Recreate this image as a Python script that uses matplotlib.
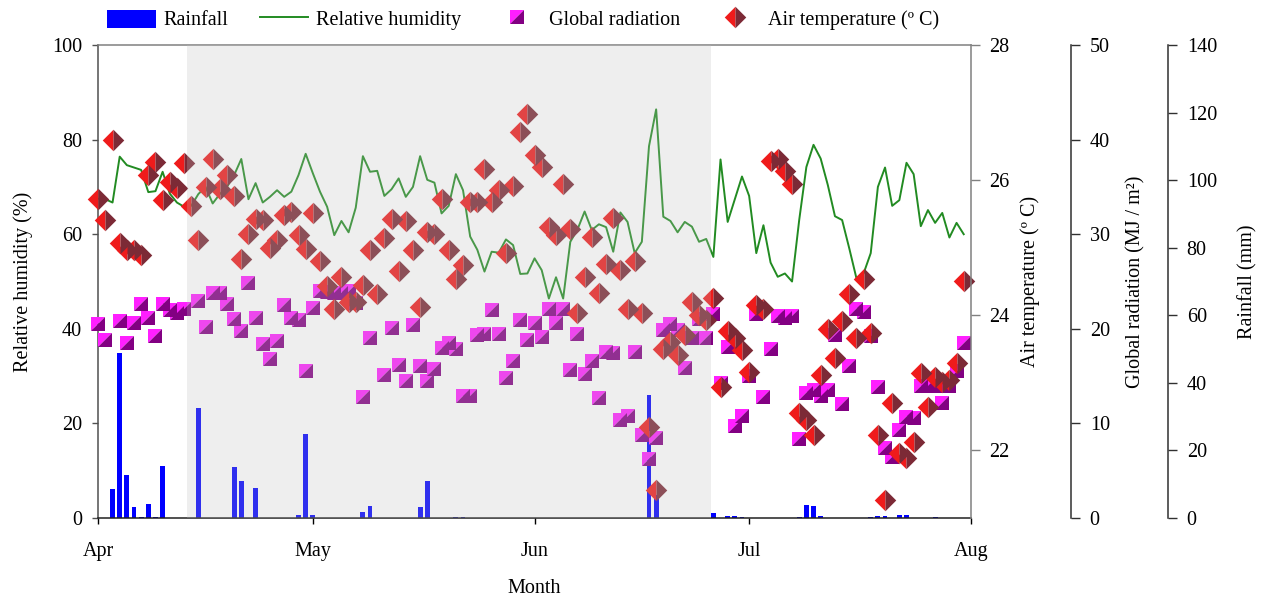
import numpy as np
import matplotlib.pyplot as plt
from matplotlib.lines import Line2D
from matplotlib.patches import Patch
from matplotlib.legend_handler import HandlerTuple

plt.rcParams['font.family'] = ['Liberation Serif', 'DejaVu Serif']
plt.rcParams['font.size'] = 14.5

# ================= DATA (day 0 = 1 April) =================
days = np.arange(122)

temperature = [
    25.72, 25.41, 26.60, 25.07, 24.97, 24.97, 24.89, 26.08, 26.27, 25.71,
    25.98, 25.88, 26.26, 25.62, 25.11, 25.90, 26.31, 25.87, 26.08, 25.76,
    24.84, 25.20, 25.42, 25.41, 24.99, 25.11, 25.48, 25.53, 25.19, 24.98,
    25.52, 24.81, 24.43, 24.09, 24.56, 24.20, 24.19, 24.45, 24.97, 24.32,
    25.15, 25.43, 24.65, 25.39, 24.96, 24.13, 25.24, 25.20, 25.72, 24.97,
    24.53, 24.74, 25.68, 25.68, 26.16, 25.68, 25.85, 24.92, 25.92, 26.72,
    26.98, 26.37, 26.20, 25.31, 25.19, 25.95, 25.27, 24.03, 24.57, 25.16,
    24.33, 24.76, 25.44, 24.67, 24.10, 24.81, 24.04, 22.34, 21.41, 23.50,
    23.61, 23.41, 23.71, 24.20, 24.00, 23.93, 24.25, 22.94, 23.77, 23.67,
    23.48, 23.16, 24.15, 24.09, 26.29, 26.32, 26.14, 25.95, 22.55, 22.45,
    22.23, 23.12, 23.79, 23.37, 23.92, 24.31, 23.66, 24.53, 23.74, 22.23,
    21.26, 22.70, 21.96, 21.89, 22.13, 23.14, 22.65, 23.09, 23.02, 23.04,
    23.29, 24.51,
]

radiation = [
    20.47, 18.80, np.nan, 20.82, 18.53, 20.57, 22.59, 21.18, 19.23, 22.66,
    21.98, 21.71, 22.13, np.nan, 22.94, 20.18, 23.83, 23.83, 22.59, 21.07,
    19.76, 24.89, 21.18, 18.35, 16.86, 18.70, 22.48, 21.18, 20.92, 15.51,
    22.24, 24.00, 23.89, 23.80, 23.83, 24.00, 22.77, 12.80, 19.06, np.nan,
    15.09, 20.12, 16.22, 14.45, 20.39, 16.12, 14.45, 15.77, 18.00, 18.45,
    17.82, 12.94, 12.94, 19.30, 19.48, 21.98, 19.41, 14.81, 16.58, 20.89,
    18.77, 20.65, 19.12, 22.13, 20.57, 22.13, 15.69, 19.41, 15.24, 16.58,
    12.69, 17.57, 17.47, 10.32, 10.74, 17.53, 8.80, 6.25, 8.45, 19.86,
    20.50, 19.86, 15.87, 19.06, 21.07, 19.06, 21.53, 14.28, 18.10, 9.76,
    10.82, 14.98, 21.60, 12.80, 17.82, 21.40, 21.18, 21.35, 8.40, 13.20,
    13.57, 12.94, 13.57, 19.30, 12.09, 16.12, 22.13, 21.77, 19.23, 13.82,
    7.39, 6.44, 9.26, 10.68, 10.57, 13.92, 13.92, 14.00, 12.16, 13.92,
    15.51, 18.53,
]

humidity = [
    67.5, 67.4, 66.7, 76.4, 74.6, 74.1, 73.6, 68.9, 69.1, 73.2,
    68.6, 66.7, 65.8, 66.0, 68.5, 70.0, 66.5, 68.5, 70.0, 72.5,
    75.9, 67.4, 70.8, 66.7, 67.9, 69.3, 67.9, 69.0, 72.5, 77.0,
    72.9, 69.0, 65.8, 59.8, 62.8, 60.4, 65.6, 76.5, 73.2, 73.4,
    68.1, 69.5, 71.8, 67.9, 70.0, 76.5, 71.5, 70.9, 64.4, 66.0,
    72.7, 69.3, 59.5, 56.7, 52.1, 56.3, 56.1, 58.9, 57.7, 51.6,
    51.7, 54.9, 52.4, 46.4, 50.9, 46.4, 58.4, 61.0, 64.8, 60.9,
    62.1, 61.5, 56.3, 64.6, 62.6, 56.0, 58.4, 78.6, 86.4, 63.7,
    62.8, 60.4, 62.6, 61.6, 58.4, 59.0, 55.2, 75.8, 62.6, 67.4,
    72.2, 68.1, 56.0, 61.9, 54.0, 51.0, 51.7, 50.0, 63.0, 74.2,
    78.9, 76.0, 70.4, 63.8, 63.0, 57.0, 50.7, 51.7, 56.0, 70.0,
    74.1, 66.0, 67.2, 75.1, 72.7, 61.7, 65.1, 62.4, 64.5, 59.3,
    62.4, 60.0,
]

rain_day = [2, 3, 4, 5, 6, 7, 8, 9, 14, 19, 20, 22, 28, 29, 30, 37, 38, 45, 46,
            50, 51, 77, 78, 86, 88, 89, 90, 98, 99, 100, 101, 108, 109, 110,
            112, 113, 117]
rain_mm = [8.6, 48.7, 12.8, 3.4, 0.4, 4.2, 0.4, 15.5, 32.5, 15.2, 11.1, 8.8,
           0.8, 24.9, 0.8, 1.9, 3.7, 3.2, 11.1, 0.4, 0.4, 36.5, 6.8, 1.5, 0.5,
           0.5, 0.4, 0.3, 3.9, 3.6, 0.7, 0.3, 0.6, 0.6, 1.0, 0.9, 0.3]

month_ticks = [0, 30, 61, 91, 122]
month_labels = ['Apr', 'May', 'Jun', 'Jul', 'Aug']
shade_span = (12.4, 85.6)

# ================= MARKER HALVES =================
sq_upper = [(-1, -1), (-1, 1), (1, 1)]
sq_lower = [(-1, -1), (1, -1), (1, 1)]
dia_left = [(0, 1), (-1, 0), (0, -1)]
dia_right = [(0, 1), (1, 0), (0, -1)]

SQ_A, SQ_B = '#ff1fff', '#820082'
DI_A, DI_B = '#ef1b1b', '#7c2a36'
GREEN = '#228b22'
SQ_MS, DI_MS = 10.6, 15.5

# ================= FIGURE =================
fig = plt.figure(figsize=(12.63, 5.97), dpi=100, facecolor='white')
hum = fig.add_axes([0.0775, 0.1323, 0.6912, 0.7923])
rain = hum.twinx()
rad = hum.twinx()
temp = hum.twinx()

rain.set_zorder(1)
hum.set_zorder(2)
rad.set_zorder(3)
temp.set_zorder(4)
hum.patch.set_visible(False)

rain.bar(rain_day, rain_mm, width=0.68, color='#0000ff', linewidth=0)
hum.plot(days, humidity, color=GREEN, lw=1.4)

rad.plot(days, radiation, ls='none', marker=sq_upper, ms=SQ_MS, mfc=SQ_A, mew=0, clip_on=False)
rad.plot(days, radiation, ls='none', marker=sq_lower, ms=SQ_MS, mfc=SQ_B, mew=0, clip_on=False)
temp.plot(days, temperature, ls='none', marker=dia_left, ms=DI_MS, mfc=DI_A, mew=0, clip_on=False)
temp.plot(days, temperature, ls='none', marker=dia_right, ms=DI_MS, mfc=DI_B, mew=0, clip_on=False)

# grey period drawn on top, washing out everything inside it
temp.axvspan(*shade_span, color='#bfbfbf', alpha=0.25, lw=0, zorder=10)

# ================= AXES =================
hum.set_xlim(-0.05, 122.0)
hum.set_ylim(0, 100)
temp.set_ylim(21, 28)
rad.set_ylim(0, 50)
rain.set_ylim(0, 140)

hum.set_xticks(month_ticks, month_labels)
hum.set_yticks([0, 20, 40, 60, 80, 100])
temp.set_yticks([22, 24, 26, 28])
rad.set_yticks([0, 10, 20, 30, 40, 50])
rain.set_yticks([0, 20, 40, 60, 80, 100, 120, 140])

hum.spines['right'].set_visible(False)
hum.spines['top'].set_color('#808080')
hum.spines['left'].set_color('#505050')
hum.spines['bottom'].set_color('#202020')
for s in hum.spines.values():
    s.set_linewidth(1.1)

for ax, pos, col in [(temp, 1.0, '#808080'), (rad, 1.1147, '#303030'), (rain, 1.2258, '#303030')]:
    for side in ['left', 'top', 'bottom']:
        ax.spines[side].set_visible(False)
    ax.spines['right'].set_position(('axes', pos))
    ax.spines['right'].set_color(col)
    ax.spines['right'].set_linewidth(1.1)
    ax.tick_params(axis='y', direction='out', length=6.5, width=1.0, pad=7,
                   colors=col, labelcolor='black', labelsize=14.5)

hum.tick_params(axis='y', direction='out', length=4.5, width=1.0, pad=7, color='#505050', labelsize=14.5)
hum.tick_params(axis='x', direction='out', length=4.5, width=1.0, pad=13, labelsize=14.5)

hum.set_ylabel('Relative humidity (%)', fontsize=14.5)
hum.yaxis.set_label_coords(-0.0745, 0.5)
hum.set_xlabel('Month', fontsize=14.5)
hum.xaxis.set_label_coords(0.5, -0.129)

temp.set_ylabel('Air temperature (º C)', fontsize=14.5)
temp.yaxis.set_label_coords(1.0563, 0.5)
rad.set_ylabel('Global radiation (MJ / m²)', fontsize=14.5)
rad.yaxis.set_label_coords(1.1785, 0.5)
rain.set_ylabel('Rainfall (mm)', fontsize=14.5)
rain.yaxis.set_label_coords(1.306, 0.5)

# ================= LEGEND =================
h_rain = Patch(facecolor='#0000ff', edgecolor='none')
h_hum = Line2D([], [], color=GREEN, lw=1.4)
h_rad = (Line2D([], [], ls='none', marker=sq_upper, ms=SQ_MS, mfc=SQ_A, mew=0),
         Line2D([], [], ls='none', marker=sq_lower, ms=SQ_MS, mfc=SQ_B, mew=0))
h_temp = (Line2D([], [], ls='none', marker=dia_left, ms=DI_MS, mfc=DI_A, mew=0),
          Line2D([], [], ls='none', marker=dia_right, ms=DI_MS, mfc=DI_B, mew=0))

fig.legend([h_rain, h_hum, h_rad, h_temp],
           ['Rainfall', 'Relative humidity', 'Global radiation', 'Air temperature (º C)'],
           handler_map={tuple: HandlerTuple(ndivide=1)},
           loc='center', bbox_to_anchor=(523 / 1263, 1 - 20 / 597), ncol=4,
           frameon=False, fontsize=14.5, handlelength=2.4, handleheight=1.0,
           handletextpad=0.4, columnspacing=1.55, borderaxespad=0)

fig.savefig('out.png', dpi=100, facecolor='white')
